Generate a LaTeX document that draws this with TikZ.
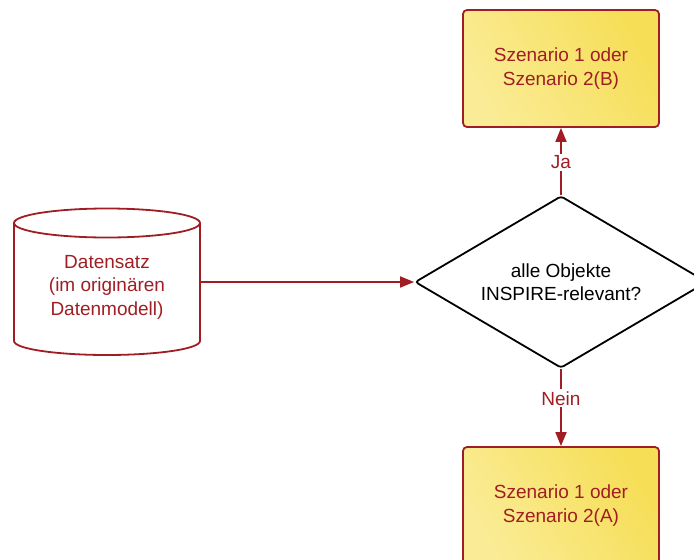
\documentclass[tikz,border=0pt]{standalone}
\usepackage{fontspec}
\setmainfont{Liberation Sans}
\usetikzlibrary{arrows.meta,shapes.geometric}
\definecolor{dred}{RGB}{160,30,35}
\definecolor{ylight}{RGB}{250,236,150}
\definecolor{ydark}{RGB}{246,222,86}
\begin{document}
\begin{tikzpicture}[x=1pt,y=-1pt,
  every node/.style={font=\fontsize{19}{23.5}\selectfont},
  scenbox/.style={draw=dred, line width=1.8pt, rounded corners=4pt,
    left color=ylight, right color=ydark, shading angle=120,
    minimum width=196, minimum height=117, inner sep=0pt,
    align=center, text=dred},
  decision/.style={diamond, aspect=1.7, draw=black, line width=1.8pt,
    rounded corners=3pt, minimum width=292, minimum height=172,
    inner sep=0pt, align=center},
  flow/.style={draw=dred, line width=1.8pt,
    -{Triangle[length=14pt,width=11pt]}},
  edgelabel/.style={fill=white, text=dred, inner sep=2pt}]
  \useasboundingbox (0,0) rectangle (694,560);
  \clip (0,0) rectangle (694,560);

  % data set drawn as a cylinder
  \node[minimum width=186, minimum height=146, inner sep=0pt,
        align=center, text=dred] (ds) at (107,287)
        {Datensatz\\(im originären\\Datenmodell)};
  \draw[dred, line width=1.8pt]
    (14,223) -- (14,341) arc[start angle=180, end angle=0,
      x radius=93, y radius=14] -- (200,223);
  \draw[dred, line width=1.8pt] (107,223) ellipse[x radius=93, y radius=14.5];

  % decision
  \node[decision] (q) at (561,282) {alle Objekte\\INSPIRE-relevant?};

  % outcomes
  \node[scenbox] (b) at (561,68.5) {Szenario 1 oder\\Szenario 2(B)};
  \node[scenbox] (a) at (561,505.5) {Szenario 1 oder\\Szenario 2(A)};

  % connectors
  \draw[flow] (ds.east |- q.west) -- (q.west);
  \draw[flow] (q.north) -- (b.south) node[edgelabel, pos=0.49] {Ja};
  \draw[flow] (q.south) -- (a.north) node[edgelabel, pos=0.38] {Nein};
\end{tikzpicture}
\end{document}
